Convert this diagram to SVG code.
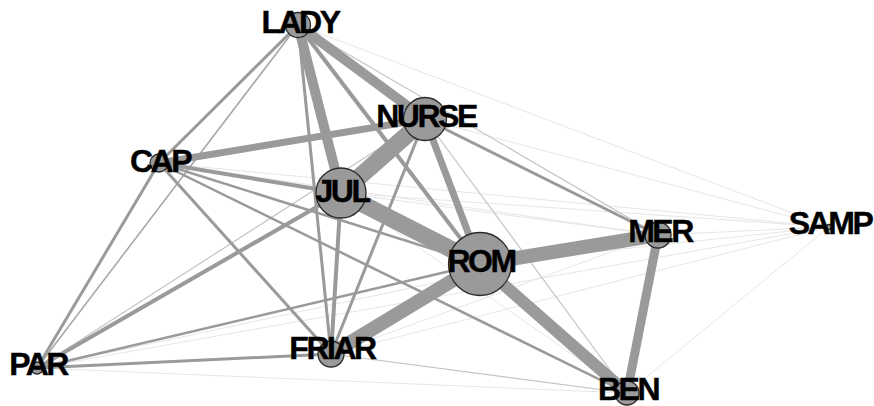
<svg xmlns="http://www.w3.org/2000/svg" width="874" height="406" viewBox="0 0 874 406">
<style>
.e{stroke:#9a9a9a;stroke-linecap:butt;fill:none}
.t1{stroke:#e6e6e6;stroke-width:1}
.t2{stroke:#c4c4c4;stroke-width:1.2}
.t3{stroke:#a8a8a8;stroke-width:1.6}
.n circle{fill:#9a9a9a;stroke:#2a2a2a;stroke-width:1.3}
.n text{font-family:"Liberation Sans",Arial,sans-serif;font-weight:bold;font-size:32px;letter-spacing:-2.5px;text-anchor:middle;fill:#000;stroke:#000;stroke-width:0.4}
</style>
<rect width="874" height="406" fill="#fff"/>
<g id="edges">
<line class="e t1" x1="298" y1="25" x2="829" y2="227"/>
<line class="e t1" x1="425" y1="119" x2="829" y2="227"/>
<line class="e t1" x1="159" y1="163" x2="829" y2="227"/>
<line class="e t1" x1="341" y1="193" x2="829" y2="227"/>
<line class="e t1" x1="480" y1="264" x2="829" y2="227"/>
<line class="e t1" x1="331" y1="354" x2="829" y2="227"/>
<line class="e t1" x1="37" y1="368" x2="829" y2="227"/>
<line class="e t1" x1="658" y1="235" x2="829" y2="227"/>
<line class="e t1" x1="627" y1="393" x2="829" y2="227"/>
<line class="e t1" x1="159" y1="163" x2="658" y2="235"/>
<line class="e t1" x1="341" y1="193" x2="658" y2="235"/>
<line class="e t1" x1="331" y1="354" x2="658" y2="235"/>
<line class="e t1" x1="37" y1="368" x2="658" y2="235"/>
<line class="e t1" x1="37" y1="368" x2="627" y2="393"/>
<line class="e t1" x1="341" y1="193" x2="627" y2="393"/>
<line class="e t2" x1="298" y1="25" x2="658" y2="235"/>
<line class="e t2" x1="425" y1="119" x2="627" y2="393"/>
<line class="e t2" x1="425" y1="119" x2="37" y2="368"/>
<line class="e t2" x1="331" y1="354" x2="627" y2="393"/>
<line class="e t3" x1="298" y1="25" x2="37" y2="368"/>
<line class="e" stroke-width="2.5" x1="159" y1="163" x2="480" y2="264"/>
<line class="e" stroke-width="2.5" x1="159" y1="163" x2="627" y2="393"/>
<line class="e" stroke-width="2.5" x1="37" y1="368" x2="480" y2="264"/>
<line class="e" stroke-width="3" x1="298" y1="25" x2="159" y2="163"/>
<line class="e" stroke-width="3" x1="298" y1="25" x2="331" y2="354"/>
<line class="e" stroke-width="3" x1="159" y1="163" x2="331" y2="354"/>
<line class="e" stroke-width="3" x1="159" y1="163" x2="37" y2="368"/>
<line class="e" stroke-width="3" x1="425" y1="119" x2="331" y2="354"/>
<line class="e" stroke-width="3" x1="425" y1="119" x2="658" y2="235"/>
<line class="e" stroke-width="3" x1="37" y1="368" x2="331" y2="354"/>
<line class="e" stroke-width="4" x1="298" y1="25" x2="480" y2="264"/>
<line class="e" stroke-width="4" x1="159" y1="163" x2="341" y2="193"/>
<line class="e" stroke-width="4" x1="341" y1="193" x2="331" y2="354"/>
<line class="e" stroke-width="4" x1="341" y1="193" x2="37" y2="368"/>
<line class="e" stroke-width="7" x1="425" y1="119" x2="480" y2="264"/>
<line class="e" stroke-width="7" x1="159" y1="163" x2="425" y2="119"/>
<line class="e" stroke-width="9" x1="658" y1="235" x2="627" y2="393"/>
<line class="e" stroke-width="10" x1="298" y1="25" x2="425" y2="119"/>
<line class="e" stroke-width="10" x1="298" y1="25" x2="341" y2="193"/>
<line class="e" stroke-width="12" x1="480" y1="264" x2="627" y2="393"/>
<line class="e" stroke-width="14" x1="480" y1="264" x2="331" y2="354"/>
<line class="e" stroke-width="14" x1="480" y1="264" x2="658" y2="235"/>
<line class="e" stroke-width="17" x1="341" y1="193" x2="425" y2="119"/>
<line class="e" stroke-width="17" x1="341" y1="193" x2="480" y2="264"/>
</g>
<g id="LADY" class="n"><circle cx="298" cy="25" r="12.5"/><text x="300" y="33">LADY</text></g>
<g id="NURSE" class="n"><circle cx="425" cy="119" r="21.5"/><text x="426" y="127">NURSE</text></g>
<g id="CAP" class="n"><circle cx="159" cy="163" r="9"/><text x="160" y="172">CAP</text></g>
<g id="JUL" class="n"><circle cx="341" cy="193" r="25"/><text x="342" y="202">JUL</text></g>
<g id="ROM" class="n"><circle cx="480" cy="264" r="31.5"/><text x="481" y="272">ROM</text></g>
<g id="MER" class="n"><circle cx="658" cy="235" r="13"/><text x="660" y="242">MER</text></g>
<g id="SAMP" class="n"><circle cx="829" cy="227" r="2.5"/><text x="830" y="234">SAMP</text></g>
<g id="PAR" class="n"><circle cx="37" cy="368" r="6"/><text x="38" y="375">PAR</text></g>
<g id="FRIAR" class="n"><circle cx="331" cy="354" r="13"/><text x="332" y="359">FRIAR</text></g>
<g id="BEN" class="n"><circle cx="627" cy="393" r="12"/><text x="628" y="400">BEN</text></g>
</svg>
